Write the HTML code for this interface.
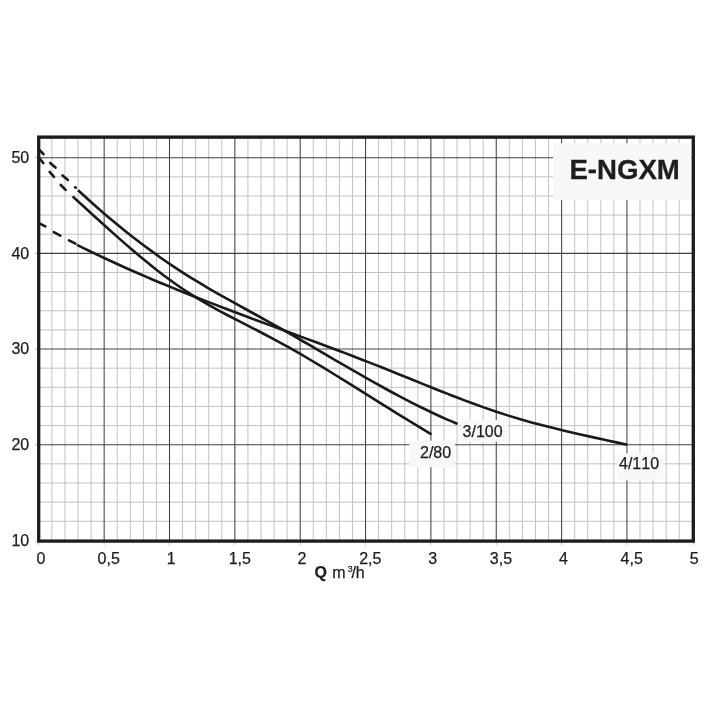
<!DOCTYPE html>
<html><head><meta charset="utf-8"><title>E-NGXM</title>
<style>
html,body{margin:0;padding:0;background:#fff;}
body{width:720px;height:720px;position:relative;overflow:hidden;font-family:"Liberation Sans",sans-serif;color:#1e1e1e;}
</style></head><body>
<svg width="720" height="720" viewBox="0 0 720 720" style="position:absolute;left:0;top:0">
<path d="M51.87 137.10V541.10M64.94 137.10V541.10M78.01 137.10V541.10M91.08 137.10V541.10M117.22 137.10V541.10M130.29 137.10V541.10M143.36 137.10V541.10M156.43 137.10V541.10M182.57 137.10V541.10M195.64 137.10V541.10M208.71 137.10V541.10M221.78 137.10V541.10M247.92 137.10V541.10M260.99 137.10V541.10M274.06 137.10V541.10M287.13 137.10V541.10M313.27 137.10V541.10M326.34 137.10V541.10M339.41 137.10V541.10M352.48 137.10V541.10M378.62 137.10V541.10M391.69 137.10V541.10M404.76 137.10V541.10M417.83 137.10V541.10M443.97 137.10V541.10M457.04 137.10V541.10M470.11 137.10V541.10M483.18 137.10V541.10M509.32 137.10V541.10M522.39 137.10V541.10M535.46 137.10V541.10M548.53 137.10V541.10M574.67 137.10V541.10M587.74 137.10V541.10M600.81 137.10V541.10M613.88 137.10V541.10M640.02 137.10V541.10M653.09 137.10V541.10M666.16 137.10V541.10M679.23 137.10V541.10M38.70 521.25H693.30M38.70 502.11H693.30M38.70 482.98H693.30M38.70 463.84H693.30M38.70 425.58H693.30M38.70 406.44H693.30M38.70 387.31H693.30M38.70 368.17H693.30M38.70 329.91H693.30M38.70 310.77H693.30M38.70 291.64H693.30M38.70 272.50H693.30M38.70 234.24H693.30M38.70 215.10H693.30M38.70 195.97H693.30M38.70 176.83H693.30M38.70 138.57H693.30" stroke="#c2c2c2" stroke-width="1.0" fill="none"/>
<path d="M104.15 137.10V541.10M169.50 137.10V541.10M234.85 137.10V541.10M300.20 137.10V541.10M365.55 137.10V541.10M430.90 137.10V541.10M496.25 137.10V541.10M561.60 137.10V541.10M626.95 137.10V541.10M38.70 444.71H693.30M38.70 349.04H693.30M38.70 253.37H693.30M38.70 157.70H693.30" stroke="#424242" stroke-width="1.05" fill="none"/>
<path d="M104.15 541.10V545.10M169.50 541.10V545.10M234.85 541.10V545.10M300.20 541.10V545.10M365.55 541.10V545.10M430.90 541.10V545.10M496.25 541.10V545.10M561.60 541.10V545.10M626.95 541.10V545.10M34.70 444.71H38.70M34.70 349.04H38.70M34.70 253.37H38.70M34.70 157.70H38.70M38.80 541.10V545.10M693.30 541.10V545.10M34.70 541.10H38.70" stroke="#c4c4c4" stroke-width="1" fill="none"/>
<rect x="553" y="143.2" width="138.5" height="57" fill="#f8f8f8"/>
<rect x="461.1" y="420" width="46" height="21.8" fill="#f8f8f8"/>
<rect x="409.3" y="440.6" width="45.8" height="26.6" fill="#f8f8f8"/>
<rect x="617.3" y="453.3" width="46" height="27.1" fill="#f8f8f8"/>
<rect x="38.70" y="137.10" width="654.60" height="404.00" fill="none" stroke="#1c1c1c" stroke-width="3.3"/>
<path d="M77.00 244.83 C78.99 245.81 84.97 248.80 88.96 250.74 C92.95 252.68 96.93 254.59 100.92 256.48 C104.91 258.36 108.90 260.22 112.88 262.05 C116.87 263.89 120.86 265.69 124.84 267.48 C128.83 269.26 132.82 271.02 136.80 272.76 C140.79 274.50 144.78 276.22 148.77 277.91 C152.75 279.61 156.74 281.29 160.73 282.95 C164.71 284.61 168.70 286.25 172.69 287.87 C176.67 289.50 180.66 291.10 184.65 292.70 C188.63 294.29 192.62 295.87 196.61 297.43 C200.60 299.00 204.58 300.55 208.57 302.09 C212.56 303.64 216.54 305.16 220.53 306.69 C224.52 308.21 228.50 309.72 232.49 311.22 C236.48 312.73 240.47 314.22 244.45 315.71 C248.44 317.20 252.43 318.69 256.41 320.17 C260.40 321.65 264.39 323.12 268.37 324.60 C272.36 326.07 276.35 327.54 280.33 329.01 C284.32 330.49 288.31 331.96 292.30 333.43 C296.28 334.90 300.27 336.37 304.26 337.85 C308.24 339.32 312.23 340.80 316.22 342.28 C320.20 343.77 324.19 345.26 328.18 346.75 C332.17 348.25 336.15 349.74 340.14 351.25 C344.13 352.76 348.11 354.28 352.10 355.81 C356.09 357.34 360.07 358.87 364.06 360.42 C368.05 361.97 372.03 363.53 376.02 365.11 C380.01 366.68 384.00 368.27 387.98 369.87 C391.97 371.47 395.96 373.08 399.94 374.69 C403.93 376.30 407.92 377.92 411.90 379.53 C415.89 381.15 419.88 382.77 423.87 384.37 C427.85 385.98 431.84 387.59 435.83 389.18 C439.81 390.76 443.80 392.35 447.79 393.91 C451.77 395.47 455.76 397.01 459.75 398.53 C463.73 400.05 467.72 401.56 471.71 403.03 C475.70 404.49 479.68 405.94 483.67 407.35 C487.66 408.76 491.64 410.14 495.63 411.48 C499.62 412.81 503.60 414.11 507.59 415.37 C511.58 416.62 515.57 417.83 519.55 419.01 C523.54 420.18 527.53 421.30 531.51 422.40 C535.50 423.49 539.49 424.55 543.47 425.58 C547.46 426.61 551.45 427.61 555.43 428.59 C559.42 429.57 563.41 430.52 567.40 431.45 C571.38 432.39 575.37 433.30 579.36 434.21 C583.34 435.11 587.33 436.00 591.32 436.89 C595.30 437.77 599.29 438.64 603.28 439.52 C607.27 440.39 611.25 441.26 615.24 442.14 C619.23 443.02 625.21 444.34 627.20 444.78" fill="none" stroke="#1a1a1a" stroke-width="2.6" stroke-linecap="butt" stroke-linejoin="round"/>
<path d="M78.00 190.19 C79.98 191.99 85.91 197.45 89.86 200.99 C93.82 204.53 97.77 208.01 101.72 211.43 C105.68 214.85 109.63 218.20 113.59 221.49 C117.54 224.79 121.50 228.02 125.45 231.18 C129.40 234.35 133.36 237.45 137.31 240.49 C141.27 243.53 145.22 246.51 149.18 249.42 C153.13 252.33 157.08 255.18 161.04 257.96 C164.99 260.74 168.95 263.45 172.90 266.10 C176.85 268.75 180.81 271.33 184.76 273.86 C188.72 276.38 192.67 278.82 196.62 281.23 C200.58 283.63 204.53 285.97 208.49 288.28 C212.44 290.59 216.40 292.85 220.35 295.09 C224.30 297.33 228.26 299.53 232.21 301.73 C236.17 303.92 240.12 306.09 244.08 308.26 C248.03 310.43 251.98 312.58 255.94 314.75 C259.89 316.92 263.85 319.08 267.80 321.27 C271.75 323.47 275.71 325.67 279.66 327.90 C283.62 330.13 287.57 332.39 291.52 334.65 C295.48 336.92 299.43 339.21 303.39 341.50 C307.34 343.79 311.30 346.10 315.25 348.40 C319.20 350.71 323.16 353.02 327.11 355.33 C331.07 357.64 335.02 359.96 338.98 362.26 C342.93 364.56 346.88 366.86 350.84 369.14 C354.79 371.43 358.75 373.70 362.70 375.96 C366.65 378.21 370.61 380.45 374.56 382.67 C378.52 384.88 382.47 387.07 386.43 389.24 C390.38 391.40 394.33 393.54 398.29 395.63 C402.24 397.73 406.20 399.80 410.15 401.83 C414.10 403.85 418.06 405.85 422.01 407.79 C425.97 409.73 429.92 411.63 433.88 413.47 C437.83 415.32 441.78 417.12 445.74 418.86 C449.69 420.60 455.62 423.06 457.60 423.91" fill="none" stroke="#1a1a1a" stroke-width="2.6" stroke-linecap="butt" stroke-linejoin="round"/>
<path d="M72.60 196.39 C74.59 198.20 80.58 203.66 84.56 207.29 C88.55 210.93 92.54 214.58 96.53 218.20 C100.51 221.82 104.50 225.43 108.49 229.01 C112.48 232.58 116.47 236.14 120.45 239.64 C124.44 243.15 128.43 246.62 132.42 250.02 C136.40 253.42 140.39 256.78 144.38 260.05 C148.37 263.33 152.36 266.54 156.34 269.66 C160.33 272.77 164.32 275.82 168.31 278.75 C172.29 281.68 176.28 284.52 180.27 287.24 C184.26 289.96 188.25 292.56 192.23 295.07 C196.22 297.58 200.21 299.97 204.20 302.31 C208.18 304.64 212.17 306.87 216.16 309.07 C220.15 311.27 224.14 313.39 228.12 315.49 C232.11 317.60 236.10 319.65 240.09 321.70 C244.07 323.76 248.06 325.78 252.05 327.83 C256.04 329.87 260.03 331.91 264.01 333.99 C268.00 336.07 271.99 338.17 275.98 340.32 C279.96 342.47 283.95 344.67 287.94 346.90 C291.93 349.14 295.92 351.42 299.90 353.72 C303.89 356.03 307.88 358.38 311.87 360.75 C315.85 363.11 319.84 365.51 323.83 367.93 C327.82 370.35 331.81 372.79 335.79 375.25 C339.78 377.70 343.77 380.18 347.76 382.66 C351.74 385.14 355.73 387.63 359.72 390.13 C363.71 392.62 367.70 395.13 371.68 397.63 C375.67 400.12 379.66 402.62 383.65 405.11 C387.63 407.60 391.62 410.09 395.61 412.55 C399.60 415.02 403.59 417.48 407.57 419.92 C411.56 422.35 415.55 424.77 419.54 427.17 C423.52 429.56 429.51 433.08 431.50 434.27" fill="none" stroke="#1a1a1a" stroke-width="2.6" stroke-linecap="butt" stroke-linejoin="round"/>
<path d="M39.40 149.80L43.45 154.19M50.22 162.93L55.48 167.57M62.54 175.41L67.86 179.89M75.13 187.29L75.77 187.71M39.40 158.30L43.21 163.04M49.63 171.92L53.97 176.78M60.78 184.98L65.62 189.82M39.40 223.30L45.32 226.39M53.78 232.21L60.32 235.59M68.97 240.31L75.43 243.69" fill="none" stroke="#1a1a1a" stroke-width="2.6" stroke-linecap="round"/>
<g font-family="Liberation Sans, sans-serif" fill="#1e1e1e" stroke="#1e1e1e" stroke-width="0.25" style="font-kerning:none">
<text x="11.40" y="162.90" font-size="16" font-weight="normal" >50</text>
<text x="11.40" y="258.55" font-size="16" font-weight="normal" >40</text>
<text x="11.40" y="354.10" font-size="16" font-weight="normal" >30</text>
<text x="11.40" y="449.90" font-size="16" font-weight="normal" >20</text>
<text x="11.40" y="545.60" font-size="16" font-weight="normal" >10</text>
<text x="36.40" y="564.20" font-size="16" font-weight="normal" >0</text>
<text x="97.60" y="564.20" font-size="16" font-weight="normal" >0,5</text>
<text x="166.70" y="564.20" font-size="16" font-weight="normal" >1</text>
<text x="228.70" y="564.20" font-size="16" font-weight="normal" >1,5</text>
<text x="297.60" y="564.20" font-size="16" font-weight="normal" >2</text>
<text x="359.15" y="564.20" font-size="16" font-weight="normal" >2,5</text>
<text x="428.30" y="564.20" font-size="16" font-weight="normal" >3</text>
<text x="489.85" y="564.20" font-size="16" font-weight="normal" >3,5</text>
<text x="559.00" y="564.20" font-size="16" font-weight="normal" >4</text>
<text x="620.55" y="564.20" font-size="16" font-weight="normal" >4,5</text>
<text x="689.70" y="564.20" font-size="16" font-weight="normal" >5</text>
<text x="314.40" y="578.00" font-size="16" font-weight="bold" >Q</text>
<text x="332.20" y="578.00" font-size="16" font-weight="normal" >m</text>
<text x="347.70" y="572.20" font-size="8.8" font-weight="normal" >3</text>
<text x="351.40" y="578.00" font-size="16" font-weight="normal" >/h</text>
<text x="569.40" y="178.90" font-size="27.6" font-weight="bold" stroke="#1e1e1e" stroke-width="0.3">E-NGXM</text>
<text x="462.60" y="436.60" font-size="16" font-weight="normal" >3/100</text>
<text x="420.00" y="457.80" font-size="16" font-weight="normal" >2/80</text>
<text x="619.00" y="469.40" font-size="16" font-weight="normal" >4/110</text>
</g>
</svg>

</body></html>
